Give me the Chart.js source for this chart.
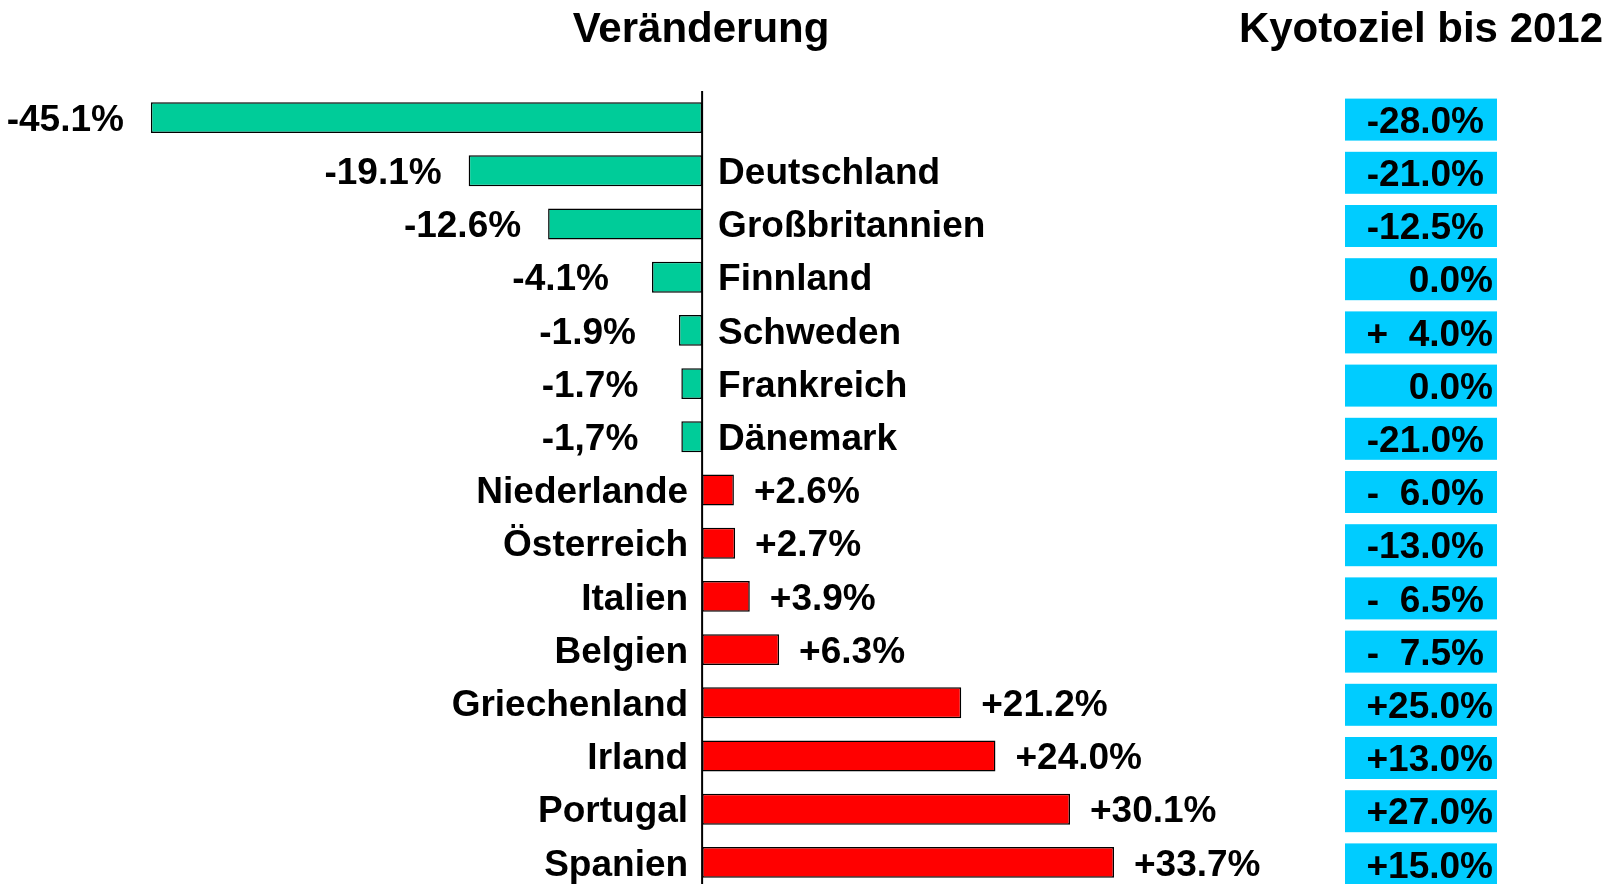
<!DOCTYPE html>
<html>
<head>
<meta charset="utf-8">
<script src="https://cdn.jsdelivr.net/npm/chart.js@4/dist/chart.umd.min.js"></script>
<style>
  html, body { margin: 0; padding: 0; background: #fff; overflow: hidden; }
  #wrap { width: 1622px; height: 890px; }
</style>
</head>
<body>
<div id="wrap"><canvas id="grafKyoto" width="1622" height="890"></canvas></div>
<script>
// Daten
const laender = ["", "Deutschland", "Großbritannien", "Finnland", "Schweden", "Frankreich", "Dänemark",
    "Niederlande", "Österreich", "Italien", "Belgien", "Griechenland", "Irland", "Portugal", "Spanien"];
const veraenderung = [-45.1, -19.1, -12.6, -4.1, -1.9, -1.7, -1.7, 2.6, 2.7, 3.9, 6.3, 21.2, 24.0, 30.1, 33.7];
const veraenderungText = ["-45.1%", "-19.1%", "-12.6%", "-4.1%", "-1.9%", "-1.7%", "-1,7%",
    "+2.6%", "+2.7%", "+3.9%", "+6.3%", "+21.2%", "+24.0%", "+30.1%", "+33.7%"];
const kyotoziel = ["-28.0%", "-21.0%", "-12.5%", "0.0%", "+  4.0%", "0.0%", "-21.0%",
    "-  6.0%", "-13.0%", "-  6.5%", "-  7.5%", "+25.0%", "+13.0%", "+27.0%", "+15.0%"];

const schrift = "bold 37px 'Liberation Sans', Arial, sans-serif";

const beschriftung = {
    id: "beschriftung",
    afterDatasetsDraw(chart) {
        const ctx = chart.ctx;
        const x = chart.scales.x, y = chart.scales.y;
        const x0 = x.getPixelForValue(0);
        ctx.save();

        // Nulllinie
        ctx.strokeStyle = "#000";
        ctx.lineWidth = 2;
        ctx.beginPath();
        ctx.moveTo(x0, chart.chartArea.top);
        ctx.lineTo(x0, chart.chartArea.bottom);
        ctx.stroke();

        ctx.font = schrift;
        ctx.fillStyle = "#000";
        ctx.textBaseline = "middle";
        veraenderung.forEach((v, i) => {
            const yc = y.getPixelForValue(i);
            const yp = yc + 3;
            const xe = x.getPixelForValue(v);
            if (v < 0) {
                ctx.textAlign = "right";
                ctx.fillText(veraenderungText[i], xe - (v > -10 ? 43 : 27), yp);
                ctx.textAlign = "left";
                ctx.fillText(laender[i], x0 + 16, yp);
            } else {
                ctx.textAlign = "left";
                ctx.fillText(veraenderungText[i], xe + 20, yp);
                ctx.textAlign = "right";
                ctx.fillText(laender[i], x0 - 14, yp);
            }

            // Kyotoziel-Kasten
            ctx.fillStyle = "#00CCFF";
            ctx.fillRect(1345, yc - 19, 152, 42);
            ctx.fillStyle = "#000";
            ctx.textAlign = "right";
            ctx.fillText(kyotoziel[i], kyotoziel[i].startsWith("-") ? 1484 : 1493, yc + 5);
        });

        // Überschriften
        ctx.font = "bold 42px 'Liberation Sans', Arial, sans-serif";
        ctx.textAlign = "center";
        ctx.fillText("Veränderung", 701, 30);
        ctx.fillText("Kyotoziel bis 2012", 1421, 30);
        ctx.restore();
    }
};

const ctx = document.getElementById("grafKyoto").getContext("2d");
new Chart(ctx, {
    type: "bar",
    data: {
        labels: laender,
        datasets: [{
            data: veraenderung,
            backgroundColor: veraenderung.map(v => v < 0 ? "#00CC99" : "#FF0000"),
            borderColor: "#000",
            borderWidth: 1.5,
            borderSkipped: false,
            categoryPercentage: 1,
            barPercentage: 0.58
        }]
    },
    options: {
        indexAxis: "y",
        responsive: false,
        animation: false,
        devicePixelRatio: 1,
        layout: { padding: { left: 91, right: 431, top: 91, bottom: 1 } },
        plugins: { legend: { display: false }, tooltip: { enabled: false } },
        scales: {
            x: { min: -50, max: 40, display: false, grid: { display: false } },
            y: { display: false, grid: { display: false }, offset: true }
        }
    },
    plugins: [beschriftung]
});
</script>
</body>
</html>
